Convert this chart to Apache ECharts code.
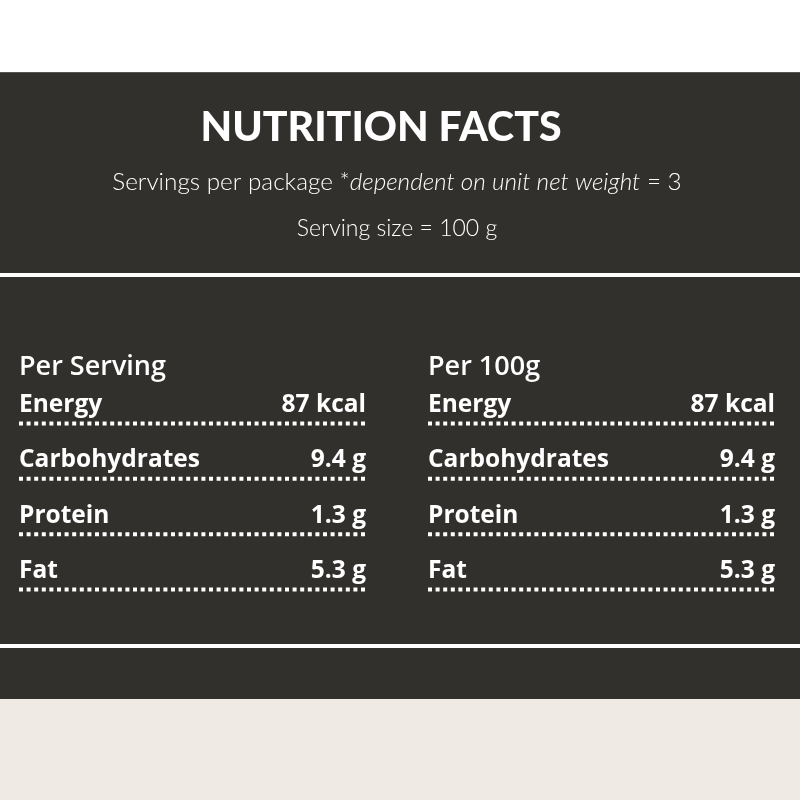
<!DOCTYPE html>
<html>
<head>
<meta charset="utf-8">
<script src="https://cdn.jsdelivr.net/npm/echarts@6/dist/echarts.min.js"></script>
<style>
  html, body { margin: 0; padding: 0; background: #fff; }
  #main { width: 800px; height: 800px; }
</style>
</head>
<body>
<div id="main"></div>
<script>
var columns = ["Per Serving", "Per 100g"];
var nutrients = ["Energy", "Carbohydrates", "Protein", "Fat"];
var units = ["kcal", "g", "g", "g"];
var perServing = [87, 9.4, 1.3, 5.3];
var per100g = [87, 9.4, 1.3, 5.3];

var dark = "#31302d";
var font = "Lato";
var rowFont = "'Open Sans'";

// one item per cell: [column, row, value]
var cells = [];
nutrients.forEach(function (n, i) {
  cells.push([0, i, perServing[i]]);
  cells.push([1, i, per100g[i]]);
});

var chart = echarts.init(document.getElementById("main"));

chart.setOption({
  backgroundColor: dark,
  animation: false,
  graphic: [
    { type: "rect", shape: { x: 0, y: 0, width: 800, height: 72 }, style: { fill: "#fff" } },
    { type: "rect", shape: { x: 0, y: 72, width: 800, height: 1 }, style: { fill: "#555" } },
    { type: "rect", shape: { x: 0, y: 273, width: 800, height: 4 }, style: { fill: "#fff" } },
    { type: "rect", shape: { x: 0, y: 644, width: 800, height: 4 }, style: { fill: "#fff" } },
    { type: "rect", shape: { x: 0, y: 699, width: 800, height: 101 }, style: { fill: "#efebe4" } },
    {
      type: "text", x: 381, y: 128,
      style: {
        text: "NUTRITION FACTS", fill: "#fff", font: "900 41px " + font,
        align: "center", verticalAlign: "middle"
      }
    },
    {
      type: "text", x: 397, y: 182,
      style: {
        text: "{n|Servings per package *}{i|dependent on unit net weight}{n| = 3}",
        align: "center", verticalAlign: "middle",
        rich: {
          n: { fill: "#fff", fontFamily: font, fontSize: 24.3, fontWeight: 300 },
          i: { fill: "#fff", fontFamily: font, fontSize: 24.3, fontWeight: 300, fontStyle: "italic" }
        }
      }
    },
    {
      type: "text", x: 397, y: 229,
      style: {
        text: "Serving size = 100 g", fill: "#fff", font: "300 23px " + font,
        align: "center", verticalAlign: "middle"
      }
    }
  ],
  grid: { left: 19, right: 25, top: 405, bottom: 229 },
  xAxis: { type: "category", data: columns, show: false },
  yAxis: { type: "category", data: nutrients, boundaryGap: false, inverse: true, show: false },
  series: [{
    type: "custom",
    data: cells,
    renderItem: function (params, api) {
      var col = api.value(0);
      var row = api.value(1);
      var val = api.value(2);
      var p = api.coord([col, row]);
      var bandW = api.size([1, 0])[0];
      var gap = 31;
      var colW = bandW - gap;
      var x0 = p[0] - bandW / 2 + (col === 0 ? 0 : gap);
      var x1 = x0 + colW;
      var y = p[1];
      var kids = [
        {
          type: "text",
          style: {
            x: x0, y: y, text: nutrients[row], fill: "#fff",
            font: "bold 24.5px " + rowFont, align: "left", verticalAlign: "middle"
          }
        },
        {
          type: "text",
          style: {
            x: x1, y: y, text: val + " " + units[row], fill: "#fff",
            font: "bold 24.5px " + rowFont, align: "right", verticalAlign: "middle"
          }
        },
        {
          type: "line",
          shape: { x1: x0, y1: y + 18.5, x2: x1, y2: y + 18.5 },
          style: { stroke: "#fff", lineWidth: 4, lineDash: [4, 3.6], lineCap: "butt" }
        }
      ];
      if (row === 0) {
        kids.push({
          type: "text",
          style: {
            x: x0, y: y - 38, text: columns[col], fill: "#fff",
            font: "600 27px " + rowFont, align: "left", verticalAlign: "middle"
          }
        });
      }
      return { type: "group", children: kids };
    }
  }]
});
</script>
</body>
</html>
